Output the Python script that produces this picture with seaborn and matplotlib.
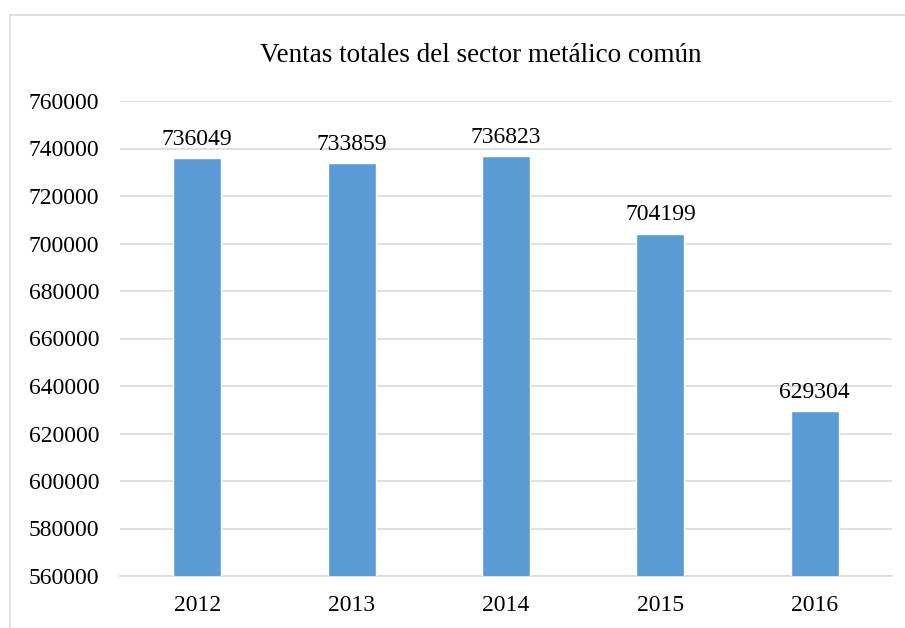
import pandas as pd
import matplotlib
matplotlib.use("Agg")
import matplotlib.pyplot as plt
import seaborn as sns
from matplotlib.patches import Rectangle

# datos del grafico
anios = ["2012", "2013", "2014", "2015", "2016"]
ventas = [736049, 733859, 736823, 704199, 629304]
ticks_y = [560000, 580000, 600000, 620000, 640000, 660000, 680000, 700000, 720000, 740000, 760000]
titulo = "Ventas totales del sector metálico común"

df = pd.DataFrame({"anio": anios, "ventas": ventas})

sns.set_theme(style="white")
plt.rcParams["font.family"] = ["Liberation Serif", "DejaVu Serif"]
plt.rcParams["text.color"] = "black"

fig = plt.figure(figsize=(9.05, 6.28), dpi=100)
ax = fig.add_axes([120 / 905, 1 - 576 / 628, 772 / 905, 475 / 628])

sns.barplot(data=df, x="anio", y="ventas", color="#5B9BD5", saturation=1, width=0.31, ax=ax, zorder=3)

ax.set_ylim(560000, 760000)
ax.set_yticks(ticks_y)
ax.set_yticklabels([str(t) for t in ticks_y])
ax.yaxis.grid(True, color="#d9d9d9", linewidth=1.2, zorder=0)
ax.set_axisbelow(True)
for s in ["top", "right", "left"]:
    ax.spines[s].set_visible(False)
ax.spines["bottom"].set_color("#d9d9d9")
ax.spines["bottom"].set_linewidth(1.2)
ax.tick_params(axis="both", length=0, labelsize=17, labelcolor="black")
ax.tick_params(axis="y", pad=15)
ax.tick_params(axis="x", pad=14)
ax.set_xlabel("")
ax.set_ylabel("")

# etiquetas de valores
for p, v in zip(ax.patches, ventas):
    ax.annotate(str(v), (p.get_x() + p.get_width() / 2, v), xytext=(0, 6),
                textcoords="offset points", ha="center", va="bottom", fontsize=17, color="black")

fig.text(481 / 905, 1 - 62 / 628, titulo, ha="center", va="baseline", fontsize=19.5, color="black")

# marco del grafico
fig.patches.append(Rectangle((10 / 905, -0.1), 1.2, 1.1 - 15 / 628, transform=fig.transFigure,
                             fill=False, edgecolor="#d9d9d9", linewidth=1.2))

fig.savefig("out.png", dpi=100)
